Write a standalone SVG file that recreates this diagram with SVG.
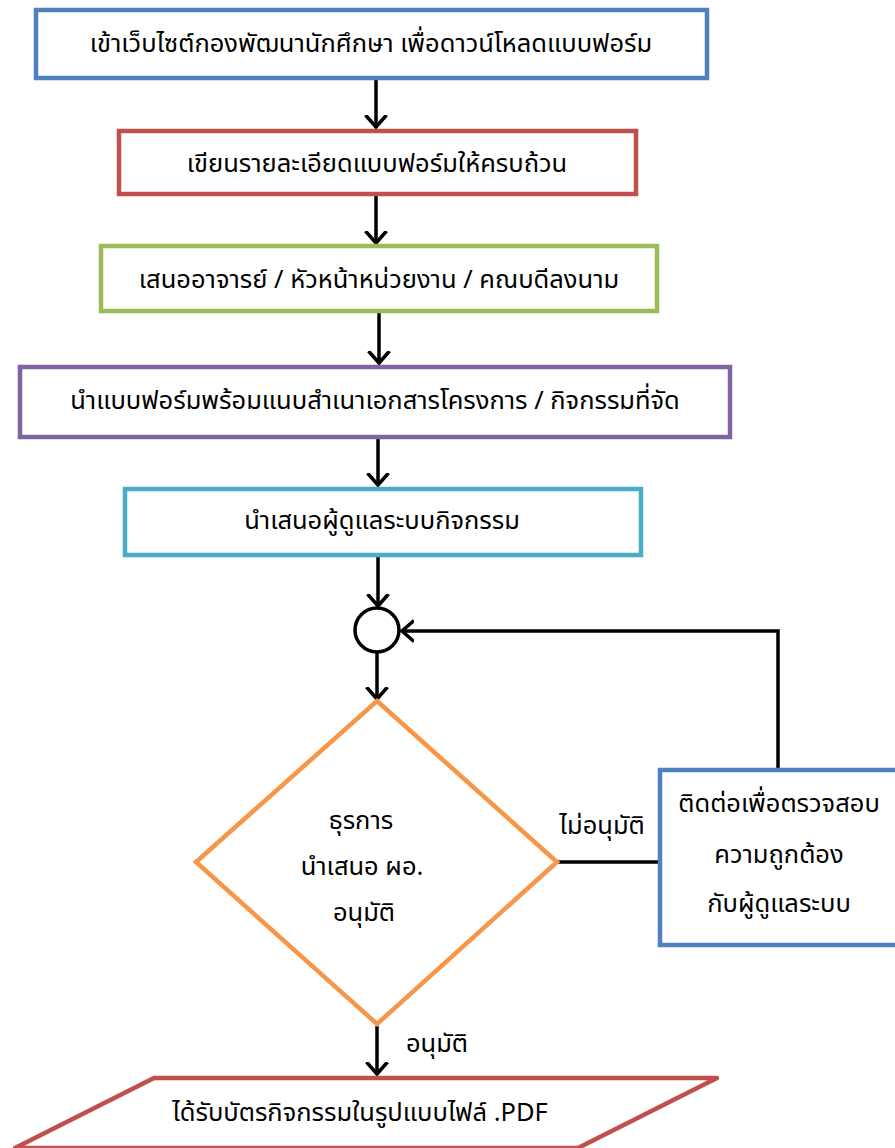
<svg xmlns="http://www.w3.org/2000/svg" width="895" height="1148" viewBox="0 0 895 1148">
<defs>
<marker id="arr" markerWidth="24" markerHeight="24" refX="12" refY="12" orient="auto" markerUnits="userSpaceOnUse">
<polyline points="0,1.5 12,12 0,22.5" fill="none" stroke="#000" stroke-width="3.5"/>
</marker>
<style>
.t{font-family:"Noto Sans Thai","Noto Sans","DejaVu Sans",sans-serif;font-size:25.5px;fill:#000;text-anchor:middle;dominant-baseline:middle}
.b{fill:#fff;stroke-width:4.5}
.c{fill:none;stroke:#000;stroke-width:3.5}
</style>
</defs>
<rect width="895" height="1148" fill="#fff"/>
<g id="connectors">
<line class="c" x1="376" y1="80" x2="376" y2="127" marker-end="url(#arr)"/>
<line class="c" x1="376" y1="196" x2="376" y2="243" marker-end="url(#arr)"/>
<line class="c" x1="379" y1="313" x2="379" y2="363" marker-end="url(#arr)"/>
<line class="c" x1="378" y1="439" x2="378" y2="485" marker-end="url(#arr)"/>
<line class="c" x1="378" y1="557" x2="378" y2="606" marker-end="url(#arr)"/>
<line class="c" x1="377" y1="653" x2="377" y2="699" marker-end="url(#arr)"/>
<polyline class="c" points="778,768 778,631 402,631" marker-end="url(#arr)"/>
<line class="c" x1="558" y1="862" x2="660" y2="862"/>
<line class="c" x1="377" y1="1026" x2="377" y2="1074" marker-end="url(#arr)"/>
<text class="t" x="602" y="827">ไม่อนุมัติ</text>
<text class="t" x="437" y="1045">อนุมัติ</text>
</g>
<g id="n1">
<rect class="b" x="36" y="10" width="671" height="68" stroke="#4F81BD"/>
<text class="t" x="371" y="45">เข้าเว็บไซต์กองพัฒนานักศึกษา เพื่อดาวน์โหลดแบบฟอร์ม</text>
</g>
<g id="n2">
<rect class="b" x="119" y="131" width="517" height="63" stroke="#C0504D"/>
<text class="t" x="377" y="165">เขียนรายละเอียดแบบฟอร์มให้ครบถ้วน</text>
</g>
<g id="n3">
<rect class="b" x="101" y="246" width="556" height="65" stroke="#9BBB59"/>
<text class="t" x="379" y="281">เสนออาจารย์ / หัวหน้าหน่วยงาน / คณบดีลงนาม</text>
</g>
<g id="n4">
<rect class="b" x="20" y="367" width="710" height="70" stroke="#8064A2"/>
<text class="t" x="375" y="402">นำแบบฟอร์มพร้อมแนบสำเนาเอกสารโครงการ / กิจกรรมที่จัด</text>
</g>
<g id="n5">
<rect class="b" x="125" y="489" width="516" height="66" stroke="#4BACC6"/>
<text class="t" x="382" y="522">นำเสนอผู้ดูแลระบบกิจกรรม</text>
</g>
<g id="merge">
<circle cx="377" cy="630" r="22" fill="#fff" stroke="#000" stroke-width="3.5"/>
</g>
<g id="decision">
<polygon points="377,701 557,862 377,1024 196,862" fill="#fff" stroke="#F79646" stroke-width="4.5" stroke-linejoin="miter"/>
<text class="t" x="361" y="822">ธุรการ</text>
<text class="t" x="362" y="868">นำเสนอ ผอ.</text>
<text class="t" x="364" y="914">อนุมัติ</text>
</g>
<g id="n6">
<rect class="b" x="660" y="770" width="250" height="175" stroke="#4F81BD"/>
<text class="t" x="779" y="805">ติดต่อเพื่อตรวจสอบ</text>
<text class="t" x="779" y="856">ความถูกต้อง</text>
<text class="t" x="779" y="905">กับผู้ดูแลระบบ</text>
</g>
<g id="output">
<polygon points="154,1078 717,1078 578,1148 15,1148" fill="#fff" stroke="#C0504D" stroke-width="4.5" stroke-linejoin="round"/>
<text class="t" x="360" y="1114">ได้รับบัตรกิจกรรมในรูปแบบไฟล์ .PDF</text>
</g>
</svg>
